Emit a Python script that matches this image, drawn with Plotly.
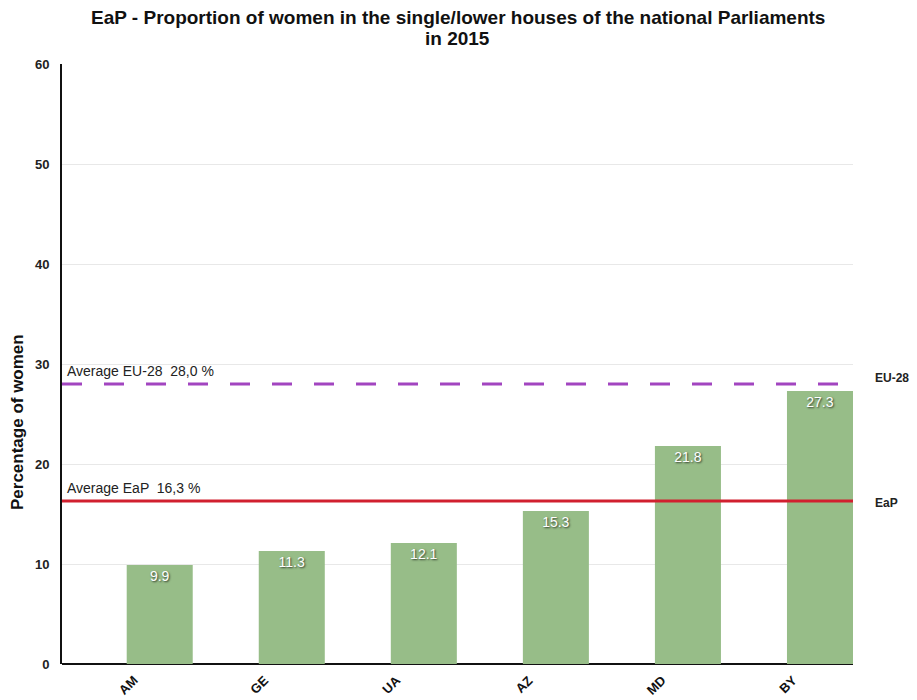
import plotly.graph_objects as go

# Countries and their share of women in parliament (%)
countries = ["AM", "GE", "UA", "AZ", "MD", "BY"]
women_pct = [9.9, 11.3, 12.1, 15.3, 21.8, 27.3]

# Reference averages
avg_eu28 = 28.0
avg_eap = 16.3
avg_eu28_label = "Average EU-28  28,0 %"
avg_eap_label = "Average EaP  16,3 %"

y_ticks = [0, 10, 20, 30, 40, 50, 60]

title_lines = ["EaP - Proportion of women in the single/lower houses of the national Parliaments",
               "in 2015"]

bar_color = "#97BD88"
eu_color = "#A245C0"
eap_color = "#D1202F"
FONT = "Liberation Sans, Arial, sans-serif"

fig = go.Figure()

fig.add_trace(go.Bar(
    x=countries,
    y=women_pct,
    width=0.5,
    marker=dict(color=bar_color, line=dict(width=0)),
    text=[f"{v:.1f}" for v in women_pct],
    textposition="inside",
    insidetextanchor="end",
    textangle=0,
    textfont=dict(family=FONT, size=14, color="white",
                  shadow="1px 1px 2px rgba(0,0,0,0.7)"),
    cliponaxis=False,
    showlegend=False,
))

# Average lines
fig.add_shape(type="line", xref="paper", x0=0, x1=1, yref="y", y0=avg_eu28, y1=avg_eu28,
              line=dict(color=eu_color, width=3, dash="20px,22px"), layer="above")
fig.add_shape(type="line", xref="paper", x0=0, x1=1, yref="y", y0=avg_eap, y1=avg_eap,
              line=dict(color=eap_color, width=3), layer="above")

label_font = dict(family=FONT, size=14, color="#222")
fig.add_annotation(xref="paper", x=0.004, yref="y", y=avg_eu28, yshift=3,
                   text=avg_eu28_label, showarrow=False, xanchor="left", yanchor="bottom",
                   font=label_font)
fig.add_annotation(xref="paper", x=0.004, yref="y", y=avg_eap, yshift=3,
                   text=avg_eap_label, showarrow=False, xanchor="left", yanchor="bottom",
                   font=label_font)

side_font = dict(family=FONT, size=12, color="#222")
fig.add_annotation(xref="paper", x=1.0, xshift=20, yref="y", y=avg_eu28, yshift=6,
                   text="<b>EU-28</b>", showarrow=False, xanchor="left", yanchor="middle",
                   font=side_font)
fig.add_annotation(xref="paper", x=1.0, xshift=20, yref="y", y=avg_eap, yshift=-2,
                   text="<b>EaP</b>", showarrow=False, xanchor="left", yanchor="middle",
                   font=side_font)

# Chart title, one annotation per line
for i, line in enumerate(title_lines):
    fig.add_annotation(xref="paper", x=0.5, yref="paper", y=1, yshift=47 - 21 * i,
                       xanchor="center", yanchor="middle", showarrow=False,
                       text=f"<b>{line}</b>",
                       font=dict(family=FONT, size=19, color="#111"))

# Y axis title
fig.add_annotation(xref="paper", x=0, xshift=-45, yref="y", y=24.2,
                   xanchor="center", yanchor="middle", showarrow=False, textangle=-90,
                   text="<b>Percentage of women</b>",
                   font=dict(family=FONT, size=17, color="#111"))

# Rotated category labels under the bars
for c in countries:
    fig.add_annotation(x=c, xref="x", y=0, yref="y", xshift=-32, yshift=-6,
                       xanchor="center", yanchor="top", showarrow=False, textangle=-45,
                       text=f"<b>{c}</b>",
                       font=dict(family=FONT, size=13, color="#111"))

fig.update_layout(
    width=917,
    height=700,
    margin=dict(l=62, r=64, t=64, b=36),
    paper_bgcolor="white",
    plot_bgcolor="white",
    xaxis=dict(
        type="category",
        range=[-0.74, 5.25],
        showticklabels=False,
        showgrid=False,
        showline=False,
        ticks="",
        automargin=False,
    ),
    yaxis=dict(
        range=[0, 60],
        tickvals=y_ticks,
        ticktext=[f"<b>{t}</b>" for t in y_ticks],
        tickfont=dict(family=FONT, size=13, color="#222"),
        ticklabelstandoff=8,
        showgrid=True,
        gridcolor="#E8E8E8",
        gridwidth=1,
        showline=True,
        linecolor="#111",
        linewidth=2,
        zeroline=True,
        zerolinecolor="#111",
        zerolinewidth=2,
        automargin=False,
    ),
    bargap=0.5,
)

fig.write_html("out.html")
